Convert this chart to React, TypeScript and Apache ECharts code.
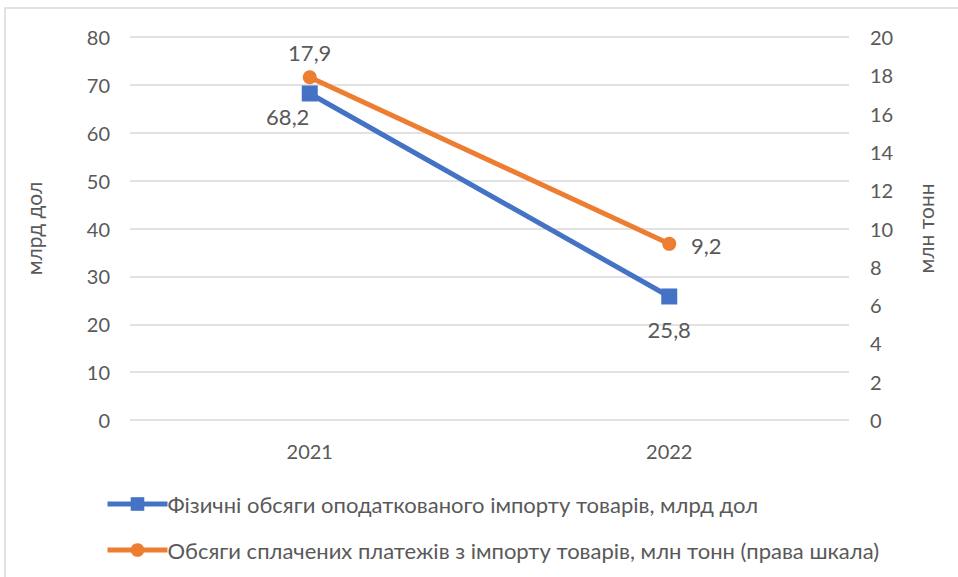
import React, { useEffect, useRef } from "react";
import * as echarts from "echarts";

const categories = ["2021", "2022"];
const importValues = [68.2, 25.8];
const paymentValues = [17.9, 9.2];
const seriesNames = [
  "Фізичні обсяги оподаткованого імпорту товарів, млрд дол",
  "Обсяги сплачених платежів з імпорту товарів, млн тонн (права шкала)",
];
const leftAxisName = "млрд дол";
const rightAxisName = "млн тонн";

const FONT = "Lato, 'Open Sans', sans-serif";
const TXT = "#595959";

const fmt = (p: any) => String(p.value).replace(".", ",");

export default function App() {
  const ref = useRef<HTMLDivElement>(null);
  useEffect(() => {
    if (!ref.current) return;
    const chart = echarts.init(ref.current, null, { renderer: "svg" });
    chart.setOption({
      animation: false,
      backgroundColor: "#ffffff",
      textStyle: { fontFamily: FONT, color: TXT },
      graphic: [
        {
          type: "rect",
          shape: { x: 5, y: 8, width: 1000, height: 600 },
          style: { fill: "none", stroke: "#d9d9d9", lineWidth: 1.5 },
          silent: true,
        },
      ],
      grid: { left: 130, right: 109, top: 37, bottom: 157, containLabel: false },
      xAxis: {
        type: "category",
        data: categories,
        boundaryGap: true,
        axisLine: { show: false },
        axisTick: { show: false },
        axisLabel: { color: TXT, fontSize: 20, fontFamily: FONT, margin: 21 },
      },
      yAxis: [
        {
          type: "value",
          min: 0,
          max: 80,
          interval: 10,
          name: leftAxisName,
          nameLocation: "middle",
          nameRotate: 90,
          nameGap: 86,
          nameTextStyle: { color: TXT, fontSize: 21, fontFamily: FONT },
          axisLine: { show: false },
          axisTick: { show: false },
          axisLabel: { color: TXT, fontSize: 20, fontFamily: FONT, margin: 20 },
          splitLine: { lineStyle: { color: "#d9d9d9", width: 1.5 } },
        },
        {
          type: "value",
          min: 0,
          max: 20,
          interval: 2,
          name: rightAxisName,
          nameLocation: "middle",
          nameRotate: 90,
          nameGap: 66,
          nameTextStyle: { color: TXT, fontSize: 21, fontFamily: FONT },
          axisLine: { show: false },
          axisTick: { show: false },
          axisLabel: { color: TXT, fontSize: 20, fontFamily: FONT, margin: 21 },
          splitLine: { show: false },
        },
      ],
      legend: {
        orient: "vertical",
        left: 100,
        top: 488,
        itemGap: 24,
        itemWidth: 60,
        itemHeight: 17,
        lineStyle: { width: 5 },
        textStyle: { color: TXT, fontSize: 22, fontFamily: FONT, padding: [0, 0, 0, -5] },
        data: seriesNames,
      },
      series: [
        {
          name: seriesNames[0],
          type: "line",
          yAxisIndex: 0,
          data: importValues,
          symbol: "rect",
          symbolSize: 16,
          itemStyle: { color: "#4472C4" },
          lineStyle: { color: "#4472C4", width: 5 },
          label: {
            show: true,
            formatter: fmt,
            color: TXT,
            fontSize: 22,
            fontFamily: FONT,
            position: "bottom",
            distance: 12,
          },
          labelLayout: (p: any) =>
            p.dataIndex === 0 ? { dx: -22, dy: -8 } : { dy: 2 },
          z: 2,
        },
        {
          name: seriesNames[1],
          type: "line",
          yAxisIndex: 1,
          data: paymentValues,
          symbol: "circle",
          symbolSize: 14,
          itemStyle: { color: "#ED7D31" },
          lineStyle: { color: "#ED7D31", width: 5 },
          label: {
            show: true,
            formatter: fmt,
            color: TXT,
            fontSize: 22,
            fontFamily: FONT,
            position: "top",
            distance: 7,
          },
          labelLayout: (p: any) =>
            p.dataIndex === 1 ? { dx: 37, dy: 27 } : {},
          z: 3,
        },
      ],
    });
    return () => chart.dispose();
  }, []);
  return (
    <div
      ref={ref}
      style={{ position: "fixed", left: 0, top: 0, width: 958, height: 577 }}
    />
  );
}
